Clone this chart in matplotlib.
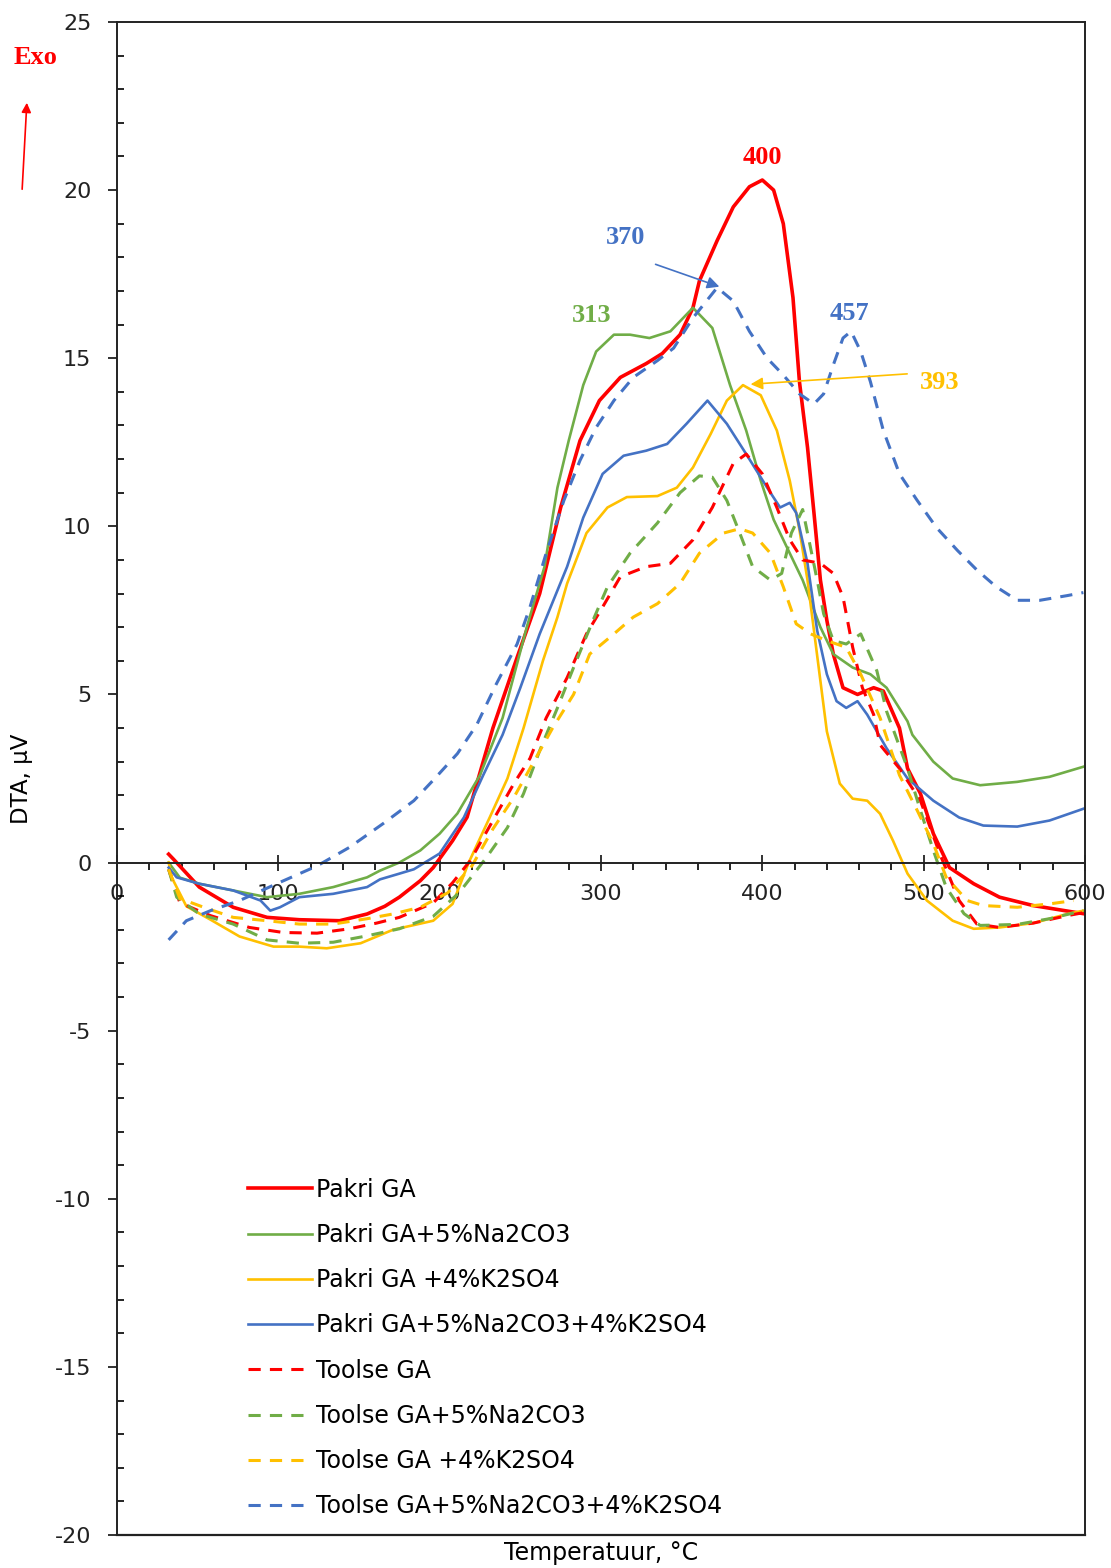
import numpy as np
import matplotlib
matplotlib.use('Agg')
import matplotlib.pyplot as plt

plt.rcParams['axes.unicode_minus'] = False

### DTA curves (temperature in C, signal in uV)
pakri_T = [32, 35, 51, 72, 93, 113, 138, 155, 166, 175, 188, 196, 208, 217, 233, 248, 262, 275, 287,
           299, 312, 328, 338, 349, 357, 361, 372, 382, 392, 400, 407, 413, 419, 423, 428, 432, 436,
           440, 444, 450, 459, 469, 475, 485, 490, 498, 506, 516, 531, 547, 568, 599]
pakri_V = [0.25, 0.1, -0.73, -1.33, -1.63, -1.7, -1.73, -1.53, -1.3, -1.03, -0.54, -0.15, 0.65,
           1.35, 4.0, 6.1, 8.0, 10.56, 12.55, 13.74, 14.43, 14.84, 15.14, 15.7, 16.5, 17.3, 18.5,
           19.5, 20.1, 20.3, 20.0, 19.0, 16.8, 14.3, 12.35, 10.4, 8.4, 7.2, 6.2, 5.2, 5.0, 5.2,
           5.1, 4.0, 2.8, 2.05, 0.86, -0.15, -0.63, -1.03, -1.28, -1.52]

pakri_na_T = [32, 39, 51, 72, 93, 113, 134, 155, 163, 175, 188, 200, 211, 225, 239, 254, 265, 273,
              280, 289, 297, 308, 318, 330, 343, 357, 369, 380, 390, 399, 407, 415, 425, 436, 444,
              456, 467, 477, 490, 493, 506, 518, 535, 558, 578, 599]
pakri_na_V = [0.0, -0.45, -0.63, -0.83, -1.03, -0.93, -0.73, -0.44, -0.24, 0.0, 0.36, 0.86, 1.46,
              2.6, 4.3, 7.0, 8.8, 11.15, 12.55, 14.2, 15.2, 15.7, 15.7, 15.6, 15.8, 16.5, 15.9, 14.2,
              12.85, 11.36, 10.2, 9.4, 8.4, 7.0, 6.2, 5.8, 5.6, 5.2, 4.2, 3.8, 3.0, 2.5, 2.3, 2.4,
              2.55, 2.85]

pakri_k_T = [32, 34, 43, 58, 76, 97, 113, 130, 151, 171, 196, 208, 218, 231, 242, 252, 264, 273,
             279, 291, 304, 316, 335, 347, 357, 368, 378, 388, 399, 409, 417, 423, 428, 432, 436,
             440, 448, 456, 465, 473, 481, 490, 502, 518, 531, 547, 568, 589, 599]
pakri_k_V = [0.0, -0.45, -1.3, -1.7, -2.2, -2.5, -2.5, -2.55, -2.4, -2.0, -1.73, -1.23, 0.0, 1.34,
             2.5, 4.0, 6.0, 7.3, 8.3, 9.8, 10.56, 10.87, 10.9, 11.15, 11.75, 12.75, 13.74, 14.2,
             13.9, 12.85, 11.36, 9.9, 8.4, 6.9, 5.4, 3.9, 2.35, 1.9, 1.84, 1.45, 0.65, -0.33, -1.13,
             -1.73, -1.97, -1.93, -1.8, -1.53, -1.43]

pakri_nak_T = [32, 37, 51, 72, 89, 95, 101, 113, 134, 155, 163, 175, 184, 200, 215, 227, 239, 250,
               262, 279, 289, 301, 314, 328, 341, 353, 366, 378, 390, 403, 411, 417, 421, 428, 434,
               440, 446, 452, 459, 465, 471, 477, 490, 506, 522, 537, 558, 578, 599]
pakri_nak_V = [-0.15, -0.44, -0.63, -0.83, -1.13, -1.43, -1.33, -1.03, -0.93, -0.73, -0.5, -0.33,
               -0.2, 0.27, 1.34, 2.6, 3.8, 5.2, 6.8, 8.8, 10.26, 11.56, 12.1, 12.25, 12.45, 13.05,
               13.74, 13.05, 12.15, 11.15, 10.56, 10.7, 10.4, 8.9, 6.9, 5.6, 4.8, 4.6, 4.8, 4.4,
               3.9, 3.4, 2.5, 1.84, 1.34, 1.1, 1.07, 1.25, 1.6]

toolse_T = [32, 39, 58, 82, 103, 124, 144, 161, 175, 196, 208, 219, 233, 246, 256, 266, 279, 291,
            301, 312, 328, 343, 357, 369, 382, 390, 400, 409, 417, 425, 436, 444, 450, 456, 462,
            469, 473, 485, 498, 510, 522, 533, 547, 568, 589, 599]
toolse_V = [-0.2, -1.2, -1.58, -1.93, -2.08, -2.1, -1.97, -1.8, -1.63, -1.2, -0.6, 0.06, 1.25, 2.35,
            3.1, 4.3, 5.5, 6.8, 7.6, 8.5, 8.8, 8.9, 9.6, 10.56, 11.87, 12.15, 11.56, 10.56, 9.6,
            9.0, 8.9, 8.6, 7.9, 6.4, 5.2, 4.4, 3.5, 2.8, 1.84, 0.26, -1.13, -1.83, -1.93, -1.8,
            -1.58, -1.49]

toolse_na_T = [32, 37, 51, 72, 93, 113, 134, 155, 175, 196, 212, 229, 242, 252, 262, 273, 283, 295,
               304, 318, 335, 349, 361, 369, 378, 386, 394, 405, 412, 418, 425, 434, 438, 444, 452,
               461, 471, 477, 490, 498, 506, 514, 525, 535, 558, 578, 599]
toolse_na_V = [-0.2, -1.03, -1.53, -1.83, -2.3, -2.4, -2.37, -2.18, -1.97, -1.6, -0.9, 0.15, 1.04,
               2.05, 3.33, 4.6, 5.8, 7.2, 8.2, 9.2, 10.1, 11.0, 11.5, 11.46, 10.77, 9.8, 8.8, 8.4,
               8.6, 9.8, 10.5, 8.4, 7.4, 6.6, 6.5, 6.8, 5.7, 4.5, 2.8, 1.55, 0.36, -0.74, -1.52,
               -1.87, -1.84, -1.67, -1.43]

toolse_k_T = [32, 39, 56, 72, 93, 113, 134, 155, 171, 188, 205, 220, 233, 246, 256, 270, 283, 293,
              308, 320, 335, 349, 361, 376, 386, 394, 405, 413, 421, 430, 440, 452, 461, 473, 485,
              496, 506, 514, 527, 537, 558, 578, 593]
toolse_k_V = [-0.2, -1.07, -1.37, -1.63, -1.73, -1.83, -1.83, -1.67, -1.53, -1.33, -0.9, -0.1, 1.0,
              1.94, 2.8, 4.0, 5.0, 6.2, 6.8, 7.3, 7.7, 8.3, 9.2, 9.8, 9.93, 9.8, 9.2, 8.2, 7.1,
              6.8, 6.6, 6.4, 5.6, 4.3, 2.6, 1.55, 0.56, -0.44, -1.13, -1.28, -1.33, -1.23, -1.13]

toolse_nak_T = [32, 43, 58, 76, 99, 124, 144, 165, 184, 196, 211, 223, 235, 248, 256, 266, 277, 287,
                297, 308, 320, 335, 345, 357, 372, 382, 392, 403, 413, 423, 432, 438, 444, 450,
                455, 461, 467, 475, 485, 496, 508, 521, 533, 545, 558, 572, 589, 599]
toolse_nak_V = [-2.3, -1.73, -1.43, -1.13, -0.63, -0.1, 0.45, 1.16, 1.84, 2.45, 3.24, 4.1, 5.3,
                6.5, 7.6, 9.2, 10.77, 11.96, 12.94, 13.74, 14.43, 14.93, 15.3, 16.2, 17.1, 16.7,
                15.8, 15.0, 14.5, 13.94, 13.64, 13.94, 14.8, 15.6, 15.8, 15.2, 14.3, 12.85, 11.56,
                10.77, 9.96, 9.28, 8.7, 8.2, 7.8, 7.8, 7.94, 8.03]

labels = ['Pakri GA', 'Pakri GA+5%Na2CO3', 'Pakri GA +4%K2SO4', 'Pakri GA+5%Na2CO3+4%K2SO4',
          'Toolse GA', 'Toolse GA+5%Na2CO3', 'Toolse GA +4%K2SO4', 'Toolse GA+5%Na2CO3+4%K2SO4']
peak_labels = ['400', '370', '313', '457', '393']

RED = '#FF0000'
GREEN = '#70AD47'
ORANGE = '#FFC000'
BLUE = '#4472C4'

series = [(pakri_T, pakri_V, RED, '-', 2.6),
          (pakri_na_T, pakri_na_V, GREEN, '-', 1.9),
          (pakri_k_T, pakri_k_V, ORANGE, '-', 1.9),
          (pakri_nak_T, pakri_nak_V, BLUE, '-', 1.9),
          (toolse_T, toolse_V, RED, (0, (4, 3)), 2.2),
          (toolse_na_T, toolse_na_V, GREEN, (0, (4, 3)), 2.2),
          (toolse_k_T, toolse_k_V, ORANGE, (0, (4, 3)), 2.2),
          (toolse_nak_T, toolse_nak_V, BLUE, (0, (4, 3)), 2.2)]

fig = plt.figure(figsize=(11.11, 15.68), dpi=100)
ax = fig.add_axes([117/1111, 1 - 1535/1568, 968/1111, 1513/1568])

for (T, V, col, ls, lw), lab in zip(series, labels):
    ax.plot(T, V, color=col, linestyle=ls, linewidth=lw, label=lab)

### axes setup
ax.set_xlim(0, 600)
ax.set_ylim(-20, 25)
ax.set_xticks(np.arange(0, 601, 100))
ax.set_xticks(np.arange(0, 601, 20), minor=True)
ax.set_yticks(np.arange(-20, 26, 5))
ax.set_yticks(np.arange(-20, 26, 1), minor=True)
ax.spines['bottom'].set_position(('data', 0))
for sp in ax.spines.values():
    sp.set_linewidth(1.4)
    sp.set_color('#222222')
# bottom edge of the frame
ax.plot([0, 1], [0, 0], transform=ax.transAxes, color='#222222', lw=1.6, clip_on=False)

ax.tick_params(axis='x', which='major', direction='inout', length=11, width=1.3,
               pad=10, labelsize=16, colors='#222222')
ax.tick_params(axis='x', which='minor', direction='out', length=5, width=1.2)
ax.tick_params(axis='y', which='major', direction='out', length=6.5, width=1.3,
               pad=12, labelsize=16, colors='#222222')
ax.tick_params(axis='y', which='minor', direction='in', length=5, width=1.2)

ax.set_ylabel('DTA, µV', fontsize=16.5)
ax.yaxis.set_label_coords(-0.0868, 0.5)
fig.text(601/1111, 1 - 1553/1568, 'Temperatuur, °C', fontsize=17, ha='center', va='center')

### peak annotations
bold_serif = dict(family='Liberation Serif', weight='bold', fontsize=19)
ax.text(400, 20.97, peak_labels[0], color=RED, ha='center', va='center', **bold_serif)
ax.text(315, 18.59, peak_labels[1], color=BLUE, ha='center', va='center', **bold_serif)
ax.text(294.4, 16.27, peak_labels[2], color=GREEN, ha='center', va='center', **bold_serif)
ax.text(454.3, 16.33, peak_labels[3], color=BLUE, ha='center', va='center', **bold_serif)
ax.text(510, 14.28, peak_labels[4], color=ORANGE, ha='center', va='center', **bold_serif)
ax.annotate('', xy=(375, 17.1), xytext=(332.2, 17.82),
            arrowprops=dict(arrowstyle='-|>', color=BLUE, lw=1.2, mutation_scale=18))
ax.annotate('', xy=(391, 14.22), xytext=(491.5, 14.54),
            arrowprops=dict(arrowstyle='-|>', color=ORANGE, lw=1.2, mutation_scale=18))

### Exo marker
fig.text(35/1111, 1 - 58/1568, 'Exo', color=RED, ha='center', va='center', **bold_serif)
fig.patches.append(matplotlib.patches.FancyArrowPatch(
    (22/1111, 1 - 192/1568), (27/1111, 1 - 100/1568), transform=fig.transFigure,
    arrowstyle='-|>', color=RED, lw=1.2, mutation_scale=14))

ax.legend(loc='lower left', bbox_to_anchor=(0.118, 0.0), frameon=False, fontsize=17,
          handlelength=2.7, handletextpad=0.2, labelspacing=0.9, borderpad=0.2)

fig.savefig('out.png', dpi=100)
